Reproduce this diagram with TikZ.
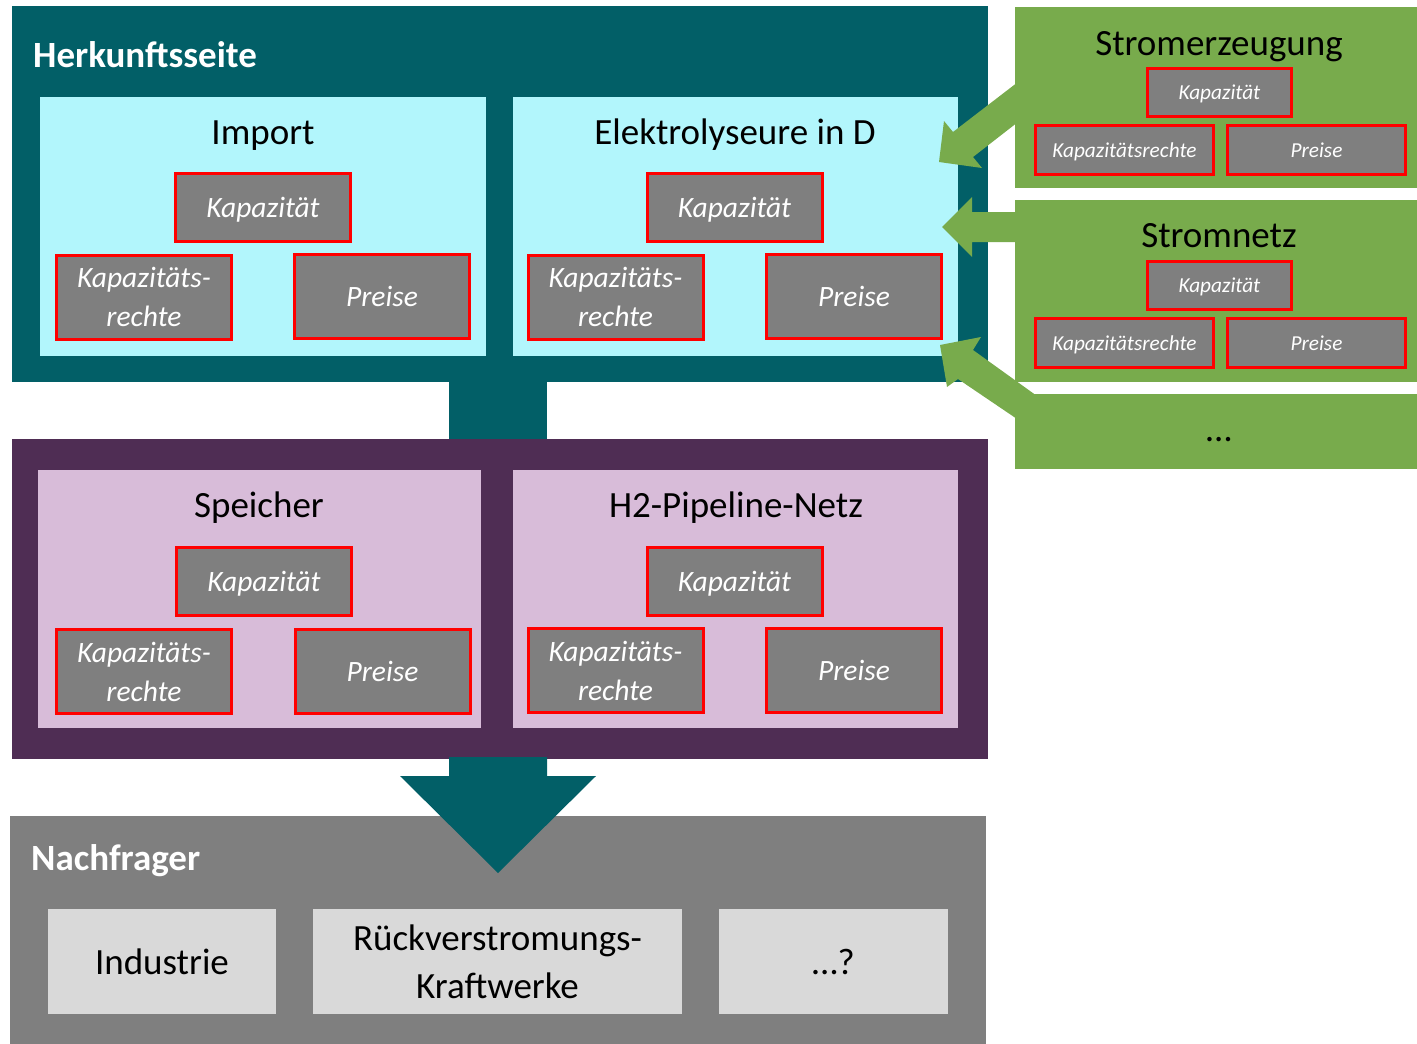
\documentclass[tikz,border=0pt]{standalone}
\usepackage{fontspec}
\setmainfont{Carlito}
\definecolor{tealc}{HTML}{025F67}
\definecolor{cyanc}{HTML}{B2F6FC}
\definecolor{purplec}{HTML}{4F2D54}
\definecolor{lilacc}{HTML}{D8BCD9}
\definecolor{greenc}{HTML}{78AB4C}
\definecolor{grayc}{HTML}{7F7F7F}
\definecolor{lgrayc}{HTML}{D9D9D9}
\definecolor{redc}{HTML}{FF0000}
\begin{document}
\begin{tikzpicture}[x=1pt,y=-1pt,
  area/.style={inner sep=0pt, anchor=north west},
  bigred/.style={draw=redc, line width=3pt, fill=grayc, text=white,
    font=\fontsize{29.5}{39}\selectfont\itshape, align=center, inner sep=0pt,
    text depth=0pt, minimum width=175pt, minimum height=84pt},
  kapred/.style={bigred, minimum height=68pt},
  smallred/.style={draw=redc, line width=3pt, fill=grayc, text=white,
    font=\fontsize{21.3}{26}\selectfont\itshape, inner sep=0pt, text depth=0pt,
    minimum width=178pt, minimum height=49pt},
  smallkap/.style={smallred, minimum width=144pt, minimum height=48pt},
  title/.style={font=\fontsize{37}{44}\selectfont, text=black, inner sep=0pt, anchor=base},
  head/.style={font=\fontsize{37}{44}\selectfont\bfseries, text=white, inner sep=0pt, anchor=base west},
  demand/.style={fill=lgrayc, inner sep=0pt, font=\fontsize{37}{48}\selectfont, align=center, minimum height=105pt}
]
\useasboundingbox (0,0) rectangle (1417,1044);

% --- main containers
\node[area, fill=tealc, minimum width=976pt, minimum height=376pt] (herk) at (12,6) {};
\fill[tealc] (449,380) rectangle (547,442);
\node[area, fill=purplec, minimum width=976pt, minimum height=320pt] (mid) at (12,439) {};
\node[area, fill=grayc, minimum width=976pt, minimum height=228pt] (nach) at (10,816) {};
\fill[tealc] (449,757) -- (547,757) -- (547,776) -- (596,776) -- (498,873) -- (400,776) -- (449,776) -- cycle;

\node[head] (herkT) at (33,67) {Herkunftsseite};
\node[head] (nachT) at (31,870) {Nachfrager};

% --- Herkunftsseite
\node[area, fill=cyanc, minimum width=446pt, minimum height=259pt] (imp) at (40,97) {};
\node[area, fill=cyanc, minimum width=445pt, minimum height=259pt] (elek) at (513,97) {};
\node[title] (impT) at (263,144) {Import};
\node[title] (elekT) at (735,144) {Elektrolyseure in D};

\node[kapred] (impK) at (263,207.5) {Kapazität};
\node[bigred] (impR) at (144,297) {Kapazitäts-\\rechte};
\node[bigred] (impP) at (382,296.5) {Preise};
\node[kapred] (elekK) at (734.5,207.5) {Kapazität};
\node[bigred] (elekR) at (615.5,297) {Kapazitäts-\\rechte};
\node[bigred] (elekP) at (854,296.5) {Preise};

% --- Speicher / Netz
\node[area, fill=lilacc, minimum width=443pt, minimum height=258pt] (spei) at (38,470) {};
\node[area, fill=lilacc, minimum width=445pt, minimum height=258pt] (hnetz) at (513,470) {};
\node[title] (speiT) at (259,517) {Speicher};
\node[title] (hnetzT) at (736,517) {H2-Pipeline-Netz};

\node[kapred] (speiK) at (264,581.5) {Kapazität};
\node[bigred] (speiR) at (144,671.5) {Kapazitäts-\\rechte};
\node[bigred] (speiP) at (382.5,671.5) {Preise};
\node[kapred] (hnetzK) at (734.5,581) {Kapazität};
\node[bigred] (hnetzR) at (615.5,670.5) {Kapazitäts-\\rechte};
\node[bigred] (hnetzP) at (854,670.5) {Preise};

% --- Nachfrager
\node[demand, minimum width=228pt] (ind) at (162,961.5) {Industrie};
\node[demand, minimum width=369pt] (rueck) at (497.5,961.5) {Rückverstromungs-\\Kraftwerke};
\node[demand, minimum width=229pt] (etc) at (833.5,961.5) {…?};

% --- right side
\node[area, fill=greenc, minimum width=402pt, minimum height=181pt] (erz) at (1015,7) {};
\node[area, fill=greenc, minimum width=402pt, minimum height=182pt] (snetz) at (1015,200) {};
\node[area, fill=greenc, minimum width=402pt, minimum height=75pt] (more) at (1015,394) {};

\node[title] (erzT) at (1219,55) {Stromerzeugung};
\node[title] (snetzT) at (1219,247) {Stromnetz};
\node[title] (moreT) at (1219,441) {…};

\node[smallkap] (erzK) at (1219.5,92.5) {Kapazität};
\node[smallred] (erzR) at (1124.5,150) {Kapazitätsrechte};
\node[smallred] (erzP) at (1316.5,150) {Preise};
\node[smallkap] (snetzK) at (1219.5,285.5) {Kapazität};
\node[smallred] (snetzR) at (1124.5,343) {Kapazitätsrechte};
\node[smallred] (snetzP) at (1316.5,343) {Preise};

% --- green block arrows
\fill[greenc] (1018,82) -- (953,132) -- (944,121) -- (939,162) -- (982,168) -- (973,157) -- (1018,122) -- cycle;
\fill[greenc] (1018,212) -- (972,212) -- (972,197) -- (942,227) -- (972,257) -- (972,242) -- (1018,242) -- cycle;
\fill[greenc] (1037,396) -- (973,350) -- (981,337) -- (940,345) -- (947,387) -- (958,379) -- (1020,421) -- (1020,396) -- cycle;
\end{tikzpicture}
\end{document}
